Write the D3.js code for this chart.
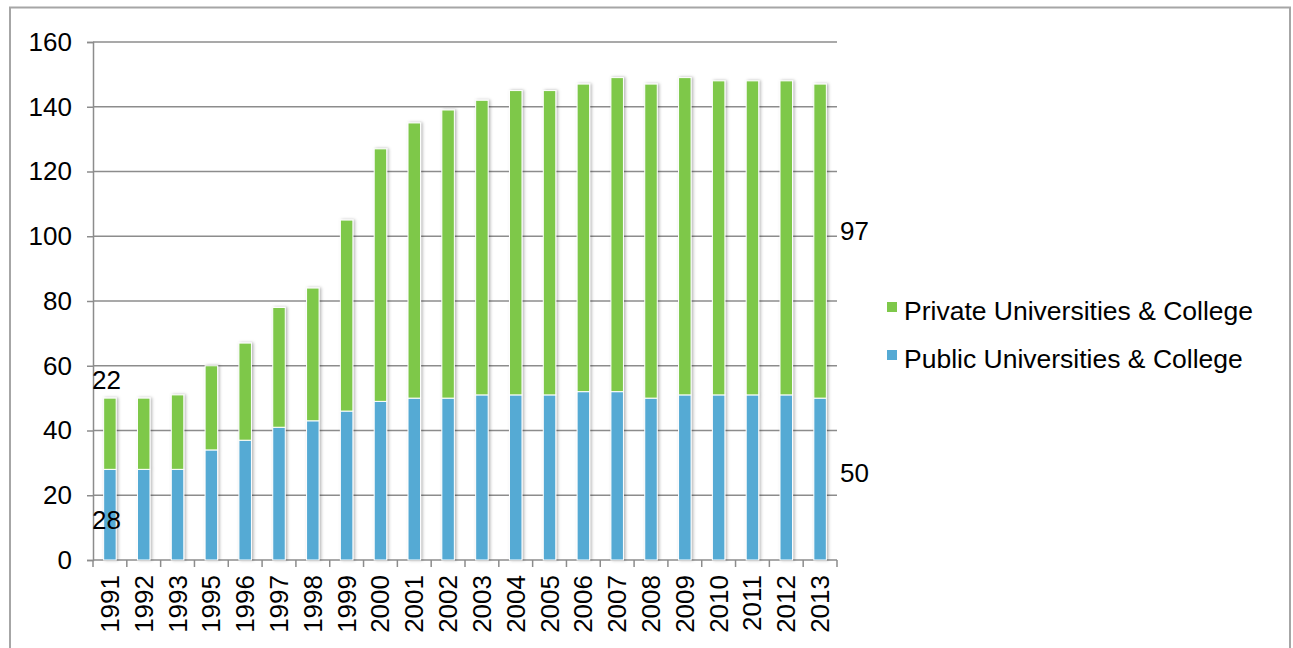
<!doctype html>
<html>
<head>
<style>
  body { margin: 0; background: #fff; }
  text { font-family: "Liberation Sans", Arial, sans-serif; fill: #000; }
</style>
<script src="https://d3js.org/d3.v7.min.js"></script>
</head>
<body>
<svg width="1293" height="648"></svg>
<script>
// data
var years = ["1991","1992","1993","1995","1996","1997","1998","1999","2000","2001","2002",
             "2003","2004","2005","2006","2007","2008","2009","2010","2011","2012","2013"];
var publicUni  = [28,28,28,34,37,41,43,46,49,50,50,51,51,51,52,52,50,51,51,51,51,50];
var privateUni = [22,22,23,26,30,37,41,59,78,85,89,91,94,94,95,97,97,98,97,97,97,97];
var yTicks = [0,20,40,60,80,100,120,140,160];
var seriesNames = ["Private Universities & College", "Public Universities & College"];
var colors = { pub: "#55aad4", priv: "#7ec84a" };
var fs = "26px";

var svg = d3.select("svg");

// outer frame (open at bottom)
svg.append("path")
   .attr("d", "M10,660 L10,7.5 L1290,7.5 L1290,660")
   .attr("fill", "none")
   .attr("stroke", "#a6a6a6")
   .attr("stroke-width", 2);

var defs = svg.append("defs");
var f = defs.append("filter").attr("id", "shadow")
   .attr("x", "-50%").attr("y", "-10%").attr("width", "200%").attr("height", "120%");
f.append("feDropShadow").attr("dx", 1.5).attr("dy", 0).attr("stdDeviation", 1.5)
   .attr("flood-color", "#000").attr("flood-opacity", 0.3);

var pLeft = 93, pRight = 837, pTop = 42, pBottom = 560;

var x = d3.scaleBand().domain(years).range([pLeft, pRight]).paddingInner(0.63).paddingOuter(0.315);
var y = d3.scaleLinear().domain([0, 160]).range([pBottom, pTop]);

// gridlines
svg.append("g").selectAll("line")
   .data(yTicks.filter(function(d) { return d > 0; }))
   .enter().append("line")
   .attr("x1", pLeft).attr("x2", pRight)
   .attr("y1", function(d) { return y(d); })
   .attr("y2", function(d) { return y(d); })
   .attr("stroke", "#8c8c8c").attr("stroke-width", 1.5);

// y axis
var yAxis = svg.append("g")
   .attr("transform", "translate(" + pLeft + ",0)")
   .call(d3.axisLeft(y).tickValues(yTicks).tickSize(6).tickPadding(15));
yAxis.selectAll("text").attr("font-size", fs)
   .attr("font-family", "Liberation Sans, Arial, sans-serif").attr("fill", "#000");
yAxis.selectAll("line, path").attr("stroke", "#8c8c8c").attr("stroke-width", 1.5);

// x axis (ticks on band edges)
var xAxis = svg.append("g").attr("transform", "translate(0," + pBottom + ")");
xAxis.append("line").attr("x1", pLeft).attr("x2", pRight).attr("stroke", "#8c8c8c").attr("stroke-width", 1.5);
var step = x.step();
xAxis.selectAll(".tk").data(years.concat(["end"])).enter().append("line")
   .attr("x1", function(d, i) { return pLeft + i * step; })
   .attr("x2", function(d, i) { return pLeft + i * step; })
   .attr("y1", 0).attr("y2", 7)
   .attr("stroke", "#8c8c8c").attr("stroke-width", 1.5);
xAxis.selectAll(".lbl").data(years).enter().append("text")
   .attr("transform", function(d) {
       return "translate(" + (x(d) + x.bandwidth() / 2 + 9) + ",15) rotate(-90)";
   })
   .attr("text-anchor", "end")
   .attr("font-size", fs)
   .text(function(d) { return d; });

// bars
var bars = svg.append("g").attr("filter", "url(#shadow)");
bars.selectAll(".pub").data(years).enter().append("rect")
   .attr("x", function(d) { return x(d); })
   .attr("width", x.bandwidth())
   .attr("y", function(d, i) { return y(publicUni[i]); })
   .attr("height", function(d, i) { return pBottom - y(publicUni[i]); })
   .attr("fill", colors.pub).attr("stroke", "#fff").attr("stroke-width", 1);
bars.selectAll(".priv").data(years).enter().append("rect")
   .attr("x", function(d) { return x(d); })
   .attr("width", x.bandwidth())
   .attr("y", function(d, i) { return y(publicUni[i] + privateUni[i]); })
   .attr("height", function(d, i) { return y(publicUni[i]) - y(publicUni[i] + privateUni[i]); })
   .attr("fill", colors.priv).attr("stroke", "#fff").attr("stroke-width", 1);

// value labels
var n = years.length - 1;
var lbl = [
  { t: privateUni[0], x: 92,  y: publicUni[0] + privateUni[0] + 5.5 },
  { t: publicUni[0],  x: 92,  y: publicUni[0] - 15.5 },
  { t: privateUni[n], x: 840, y: 101.5 },
  { t: publicUni[n],  x: 840, y: 27 }
];
svg.selectAll(".vl").data(lbl).enter().append("text")
   .attr("x", function(d) { return d.x; })
   .attr("y", function(d) { return y(d.y); })
   .attr("dy", "0.35em")
   .attr("font-size", fs)
   .text(function(d) { return d.t; });

// legend
var leg = svg.append("g");
[colors.priv, colors.pub].forEach(function(c, i) {
  leg.append("rect").attr("x", 887).attr("y", 302 + i * 48).attr("width", 10).attr("height", 10).attr("fill", c);
  leg.append("text").attr("x", 904).attr("y", 320 + i * 48).attr("font-size", "26.5px").text(seriesNames[i]);
});
</script>
</body>
</html>
